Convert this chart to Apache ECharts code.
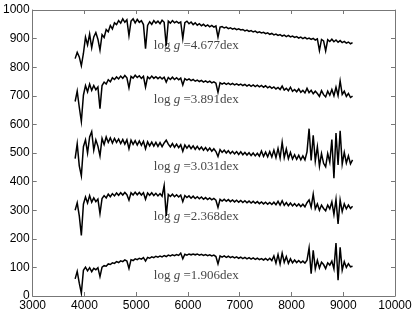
<!DOCTYPE html>
<html>
<head>
<meta charset="utf-8">
<script src="https://cdn.jsdelivr.net/npm/echarts@6/dist/echarts.min.js"></script>
<style>
html,body{margin:0;padding:0;background:#fff;}
#chart{width:415px;height:312px;}
</style>
</head>
<body>
<div id="chart"></div>
<script>
const wavelength = [
3820,3860,3900,3940,3980,4020,4060,4100,4140,4180,
4220,4260,4300,4340,4380,4420,4460,4500,4540,4580,
4620,4660,4700,4740,4780,4820,4860,4900,4940,4980,
5020,5060,5100,5140,5180,5220,5260,5300,5340,5380,
5420,5460,5500,5540,5580,5620,5660,5700,5740,5780,
5820,5860,5900,5940,5980,6020,6060,6100,6140,6180,
6220,6260,6300,6340,6380,6420,6460,6500,6540,6580,
6620,6660,6700,6740,6780,6820,6860,6900,6940,6980,
7020,7060,7100,7140,7180,7220,7260,7300,7340,7380,
7420,7460,7500,7540,7580,7620,7660,7700,7740,7780,
7820,7860,7900,7940,7980,8020,8060,8100,8140,8180,
8220,8260,8300,8340,8380,8420,8460,8500,8540,8580,
8620,8660,8700,8740,8780,8820,8860,8900,8940,8980,
9020,9060,9100,9140,9180];

const flux_4677 = [
830,852,836,805,848,905,878,916,868,906,
921,898,860,914,904,932,924,946,934,955,
949,963,954,969,957,966,910,961,969,955,
967,957,963,949,865,946,959,950,963,954,
961,952,964,957,875,961,954,963,955,960,
954,958,900,956,961,952,958,949,955,947,
952,945,950,943,948,941,946,940,944,905,
940,942,937,940,935,938,933,936,931,934,
930,932,927,930,925,928,923,926,921,924,
920,922,917,920,915,918,913,916,911,914,
909,912,907,911,906,909,904,907,902,905,
900,904,899,902,897,901,895,899,858,897,
892,857,896,890,898,889,895,887,893,886,
890,884,888,882,886];

const flux_3891 = [
680,716,660,610,702,736,714,741,719,736,
721,731,655,736,748,741,756,749,763,757,
766,759,769,761,771,763,728,768,762,772,
764,770,761,768,730,766,760,769,761,767,
760,766,759,765,748,764,757,765,757,763,
756,762,738,760,755,759,753,757,751,755,
750,754,748,752,747,751,745,749,744,712,
746,741,745,740,744,739,743,738,742,737,
741,736,740,734,739,733,738,732,737,731,
736,730,735,728,733,726,731,724,729,722,
734,720,726,718,730,716,722,714,724,712,
719,710,726,711,719,707,716,708,698,718,
704,696,716,702,722,700,730,701,752,705,
716,698,708,694,699];

const flux_3031 = [
480,532,455,420,522,546,500,556,575,510,
546,524,490,551,530,556,537,553,535,551,
537,549,533,547,531,546,515,545,530,543,
528,542,527,541,515,539,525,538,524,537,
523,536,522,535,545,531,521,533,520,531,
519,529,506,528,517,527,515,525,513,523,
512,521,510,519,508,517,506,515,505,488,
512,502,510,500,508,498,506,497,505,495,
504,494,502,493,501,491,500,490,499,489,
507,488,503,487,505,486,510,484,516,482,
538,484,514,480,502,479,494,478,492,476,
490,476,504,585,474,562,472,522,454,498,
464,452,498,468,547,412,570,458,578,461,
502,465,490,462,476];

const flux_2368 = [
300,326,280,212,321,346,325,351,328,343,
330,339,288,341,351,343,356,347,358,350,
360,352,361,353,362,354,335,361,353,363,
354,362,353,361,338,360,352,361,351,359,
350,358,349,386,280,355,348,356,347,354,
346,353,330,351,344,350,342,349,341,347,
340,346,338,344,337,343,336,341,335,310,
338,332,338,331,337,330,336,329,335,328,
334,327,333,326,332,325,331,324,330,323,
329,322,328,321,327,320,328,319,331,318,
333,317,327,316,325,315,323,314,322,313,
321,312,326,336,310,356,305,322,300,318,
306,298,318,305,329,285,338,252,336,295,
322,305,318,306,314];

const flux_1906 = [
60,86,45,10,90,101,88,99,85,97,
92,99,68,101,106,104,112,110,116,114,
120,117,123,120,126,122,96,127,124,130,
127,132,129,134,122,135,132,137,134,139,
136,140,137,141,138,143,140,144,141,145,
142,150,130,146,143,147,144,147,144,147,
143,146,142,145,141,144,140,143,138,112,
140,136,140,135,139,134,138,133,137,132,
136,131,135,130,134,129,133,128,132,127,
131,126,131,125,132,124,140,115,145,112,
150,118,138,114,130,116,126,117,124,116,
122,115,125,168,78,160,95,125,98,118,
110,96,116,108,122,95,185,55,170,90,
120,100,113,102,104];

const logg = ['4.677','3.891','3.031','2.368','1.906'];
const labelAnchorX = 5340;
const labelAnchorY = [874, 686, 451, 277, 73];

const fluxes = [flux_4677, flux_3891, flux_3031, flux_2368, flux_1906];

const chart = echarts.init(document.getElementById('chart'), null, {renderer:'canvas'});

const axisColor = '#777';
const tickFont = {fontFamily:'Liberation Sans, Arial, sans-serif', fontSize:12, color:'#000', formatter: v => String(v)};

const series = fluxes.map(f => ({
  type:'line',
  data: wavelength.map((w,i) => [w, f[i]]),
  showSymbol:false,
  symbol:'none',
  lineStyle:{color:'#000', width:1.5, join:'miter'},
  animation:false,
  silent:true
}));

series.push({
  type:'scatter',
  symbolSize:0,
  animation:false,
  silent:true,
  data: logg.map((g,i) => [labelAnchorX, labelAnchorY[i], g]),
  label:{
    show:true,
    position:'right',
    distance:0,
    formatter: p => '{n|log }{i|g}{n| =' + p.value[2] + 'dex}',
    rich:{
      n:{fontFamily:'Liberation Serif, Times New Roman, serif', fontSize:13, color:'#111'},
      i:{fontFamily:'Liberation Serif, Times New Roman, serif', fontSize:13, fontStyle:'italic', color:'#111'}
    }
  }
});

chart.setOption({
  animation:false,
  backgroundColor:'#fff',
  grid:{left:30, right:20, top:10, bottom:15, containLabel:false},
  xAxis:[{
    type:'value', min:3000, max:10000, interval:1000,
    axisLine:{show:true, onZero:false, lineStyle:{color:axisColor, width:1}},
    axisTick:{show:true, inside:true, length:4, lineStyle:{color:axisColor}},
    axisLabel:Object.assign({margin:4}, tickFont),
    splitLine:{show:false}
  },{
    type:'value', position:'top', min:3000, max:10000, interval:1000,
    axisLine:{show:true, onZero:false, lineStyle:{color:axisColor, width:1}},
    axisTick:{show:true, inside:true, length:4, lineStyle:{color:axisColor}},
    axisLabel:{show:false},
    splitLine:{show:false}
  }],
  yAxis:[{
    type:'value', min:0, max:1000, interval:100,
    axisLine:{show:true, onZero:false, lineStyle:{color:axisColor, width:1}},
    axisTick:{show:true, inside:true, length:4, lineStyle:{color:axisColor}},
    axisLabel:Object.assign({margin:3}, tickFont),
    splitLine:{show:false}
  },{
    type:'value', position:'right', min:0, max:1000, interval:100,
    axisLine:{show:true, onZero:false, lineStyle:{color:axisColor, width:1}},
    axisTick:{show:true, inside:true, length:4, lineStyle:{color:axisColor}},
    axisLabel:{show:false},
    splitLine:{show:false}
  }],
  series: series
});
</script>
</body>
</html>
